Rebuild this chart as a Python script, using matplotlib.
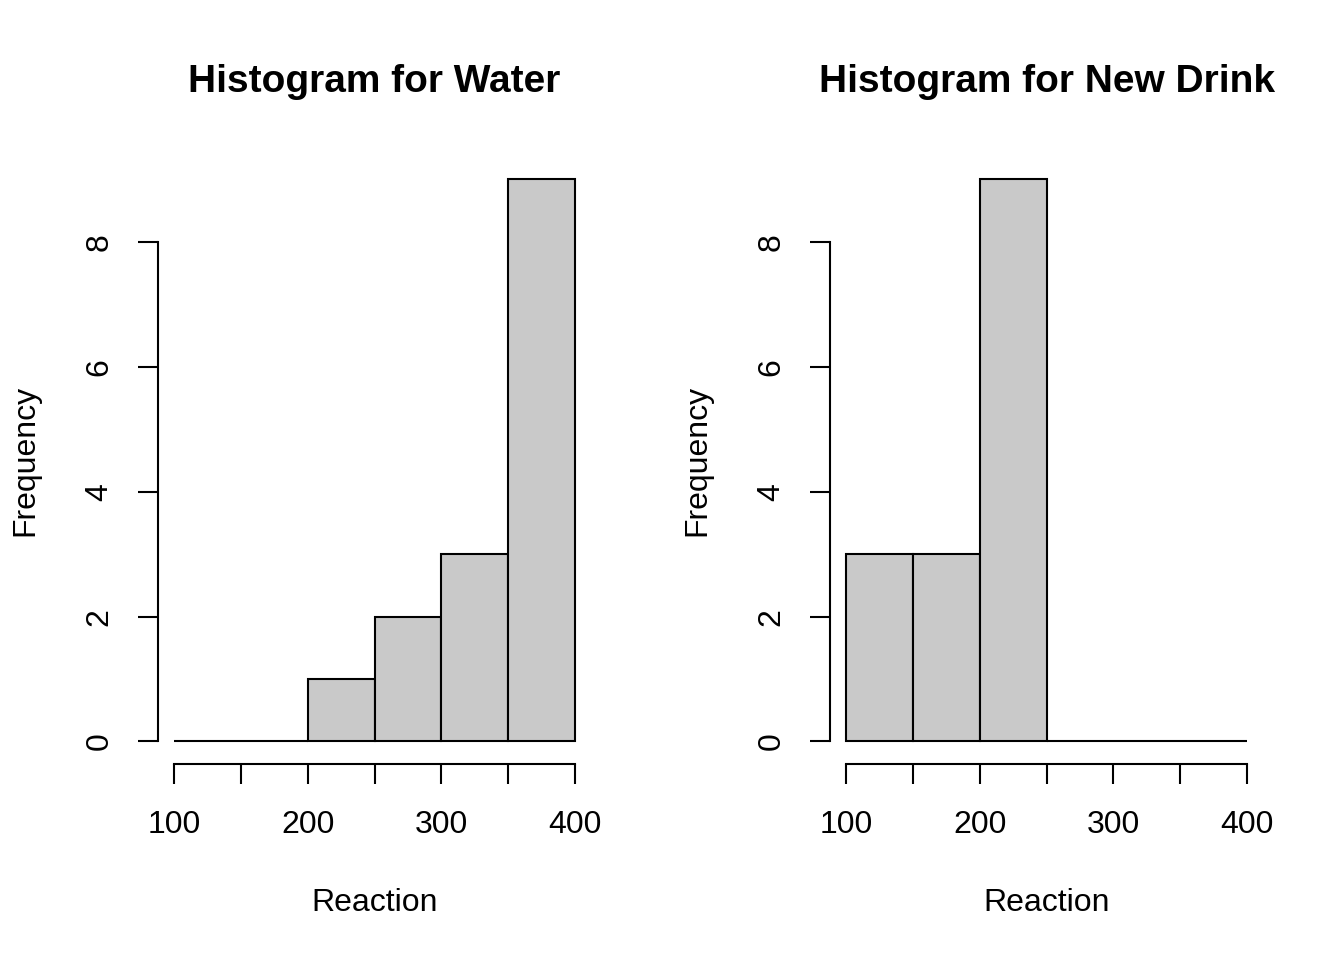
import numpy as np
import matplotlib.pyplot as plt

plt.rcParams['font.family'] = ['Liberation Sans', 'DejaVu Sans']

# histogram data, bins of width 50 from 100 to 400
bin_edges = [100, 150, 200, 250, 300, 350, 400]
water_counts = [0, 0, 1, 2, 3, 9]
drink_counts = [3, 3, 9, 0, 0, 0]
titles = ["Histogram for Water", "Histogram for New Drink"]
x_ticks = [100, 200, 300, 400]
x_minor = [150, 250, 350]
y_ticks = [0, 2, 4, 6, 8]


def r_hist(ax, counts, title):
    edges = np.array(bin_edges)
    ax.bar(edges[:-1], counts, width=np.diff(edges), align='edge',
           color='#c9c9c9', edgecolor='black', linewidth=1.5)
    ax.set_xlim(88, 412)
    ax.set_ylim(-0.36, 9.36)
    for s in ['top', 'right']:
        ax.spines[s].set_visible(False)
    ax.spines['left'].set_bounds(0, 8)
    ax.spines['bottom'].set_bounds(100, 400)
    for s in ['left', 'bottom']:
        ax.spines[s].set_linewidth(1.5)
    ax.set_xticks(x_ticks + x_minor)
    ax.set_xticklabels([str(v) for v in x_ticks] + [''] * len(x_minor))
    ax.set_yticks(y_ticks)
    ax.set_yticklabels([str(v) for v in y_ticks], rotation=90, va='center')
    ax.tick_params(axis='both', direction='out', length=14.4, width=1.5,
                   labelsize=23)
    ax.tick_params(axis='x', pad=19)
    ax.tick_params(axis='y', pad=17)
    ax.set_xlabel("Reaction", fontsize=23)
    ax.xaxis.set_label_coords(0.5, -0.229)
    ax.xaxis.label.set_va('center')
    ax.set_ylabel("Frequency", fontsize=23)
    ax.yaxis.set_label_coords(-0.307, 0.5)
    ax.yaxis.label.set_va('center')
    ax.text(0.5, 1.124, title, transform=ax.transAxes, ha='center',
            va='center', fontsize=28, fontweight='bold')


fig = plt.figure(figsize=(13.44, 9.6), dpi=100)
ax1 = fig.add_axes([0.1176, 0.2042, 0.3222, 0.6323])
ax2 = fig.add_axes([0.6176, 0.2042, 0.3222, 0.6323])
r_hist(ax1, water_counts, titles[0])
r_hist(ax2, drink_counts, titles[1])

fig.savefig("out.png", dpi=100)
